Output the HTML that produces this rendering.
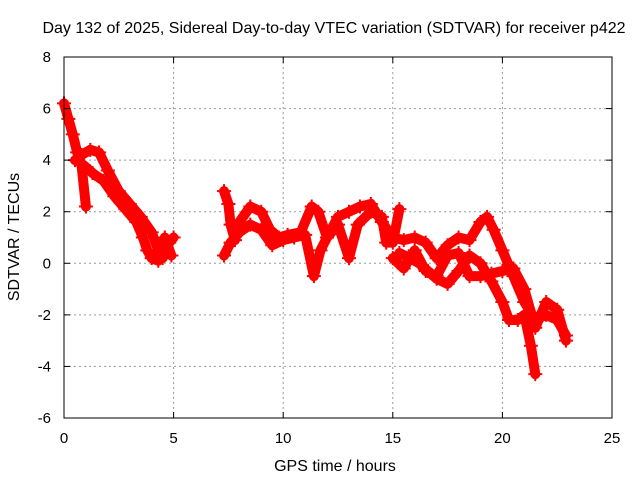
<!DOCTYPE html>
<html><head><meta charset="utf-8"><style>
body{margin:0;background:#fff}
svg text{font-family:"Liberation Sans",sans-serif;font-size:15px;fill:#000}
</style></head><body>
<svg id="chart" width="640" height="480" xmlns="http://www.w3.org/2000/svg">
<rect width="640" height="480" fill="#fff"/>
<g id="grid"></g>
<g id="series"></g>
<rect x="64" y="57" width="548" height="361" fill="none" stroke="#000" stroke-width="1"/>
<g id="ticks"></g>
<text x="334" y="33" text-anchor="middle" style="font-size:16px">Day 132 of 2025, Sidereal Day-to-day VTEC variation (SDTVAR) for receiver p422</text>
<text x="335" y="471" text-anchor="middle" style="font-size:16px">GPS time / hours</text>
<text transform="translate(19,237) rotate(-90)" text-anchor="middle" style="font-size:16px">SDTVAR / TECUs</text>
</svg>
<script>
const xTicks=[0,5,10,15,20,25];
const yTicks=[-6,-4,-2,0,2,4,6,8];
const traceA1=[[0,6.2],[0.2,5.6],[0.4,5.0],[0.6,4.3],[0.8,3.8],[1.0,2.2]];
const traceA2=[[0.5,4.0],[0.8,4.2],[1.2,4.4],[1.6,4.3],[2.0,3.6],[2.5,2.8],[3.0,2.3],[3.5,1.8],[4.0,1.2],[4.3,0.5],[4.5,0.2],[4.8,0.8],[5.0,1.0]];
const traceA3=[[0.9,3.8],[1.3,3.5],[1.8,3.2],[2.3,2.6],[2.8,2.1],[3.3,1.6],[3.6,1.0],[3.8,0.5],[4.0,0.2],[4.3,0.1],[4.6,1.0],[4.9,0.3]];
const traceB1=[[7.3,2.8],[7.5,2.3],[7.6,1.5],[7.8,0.9],[8.0,1.6],[8.5,2.2],[9.0,2.0],[9.4,1.3],[9.8,1.0],[10.2,1.1],[10.8,1.2],[11.3,2.2],[11.6,2.0],[12.0,1.0],[12.5,1.8],[13,2.0],[13.5,2.2],[14,2.3],[14.5,1.6],[15,1.0]];
const traceB2=[[7.3,0.3],[7.6,0.8],[8.0,1.2],[8.5,1.5],[9.0,1.3],[9.5,0.7],[10,0.9],[10.5,1.0],[11,1.1],[11.4,-0.5],[11.7,0.5],[12.0,1.0],[12.5,1.5],[13.0,0.2],[13.4,1.5],[14,2.0],[14.5,1.8],[14.7,0.8],[15.0,0.8],[15.3,2.1]];
const traceC1=[[15,1.0],[15.5,0.9],[16,1.0],[16.5,0.8],[17,0.2],[17.5,0.7],[18,1.0],[18.5,0.9],[19.0,1.6],[19.3,1.8],[19.6,1.3],[20,0.5],[20.5,-0.5],[21,-1.5],[21.5,-2.2],[22,-2.0],[22.5,-2.2],[22.9,-2.8]];
const traceC2=[[15.3,0.4],[15.8,0.2],[16.2,0.0],[16.6,-0.3],[17.0,-0.6],[17.5,-0.8],[18,-0.3],[18.5,0.3],[19,0.0],[19.5,-0.7],[20,-1.5],[20.3,-2.2],[20.7,-2.2],[21.0,-2.0],[21.3,-3.2],[21.5,-4.3]];
const traceC3=[[15.0,0.2],[15.5,-0.2],[16.0,0.5],[16.5,-0.3],[17.0,-0.5],[17.5,0.3],[18,0.4],[18.5,-0.5],[19,-0.5],[19.5,-0.4],[20,-0.3],[20.5,-0.2],[21,-1.0],[21.5,-2.5],[22,-1.5],[22.5,-1.8],[22.9,-3.0]];
const traces=[traceA1,traceA2,traceA3,traceB1,traceB2,traceC1,traceC2,traceC3];
const X0=64,X1=612,Y0=418,Y1=57;
function sx(t){return X0+(t-0)/(25-0)*(X1-X0);}
function sy(v){return Y0-(v+6)/(8+6)*(Y0-Y1);}
const NS="http://www.w3.org/2000/svg";
const grid=document.getElementById('grid'),ticks=document.getElementById('ticks'),ser=document.getElementById('series');
function mk(tag,attrs,parent){const e=document.createElementNS(NS,tag);for(const k in attrs)e.setAttribute(k,attrs[k]);parent.appendChild(e);return e;}
xTicks.forEach(t=>{
  const x=sx(t);
  if(t>0&&t<25){const g=mk('line',{x1:x,x2:x,y1:Y1,y2:Y0,stroke:'#999','stroke-dasharray':'2,3'},grid);
  
  }
  mk('line',{x1:x,x2:x,y1:Y0,y2:Y0-6,stroke:'#000'},ticks);
  mk('line',{x1:x,x2:x,y1:Y1,y2:Y1+6,stroke:'#000'},ticks);
  const l=mk('text',{x:x,y:443,'text-anchor':'middle'},ticks);l.textContent=t;
  
  
});
yTicks.forEach(v=>{
  const y=sy(v);
  if(v>-6&&v<8){const g=mk('line',{x1:X0,x2:X1,y1:y,y2:y,stroke:'#999','stroke-dasharray':'2,3'},grid);
  
  }
  mk('line',{x1:X0,x2:X0+6,y1:y,y2:y,stroke:'#000'},ticks);
  mk('line',{x1:X1,x2:X1-6,y1:y,y2:y,stroke:'#000'},ticks);
  const l=mk('text',{x:51,y:y+5,'text-anchor':'end'},ticks);l.textContent=v;
  
  
});
traces.forEach((tr,i)=>{
  const pl=mk('polyline',{points:tr.map(p=>sx(p[0])+','+sy(p[1])).join(' '),fill:'none',stroke:'#f00','stroke-width':10,'stroke-linejoin':'round','stroke-linecap':'round'},ser);
  
  
  tr.forEach(p=>{
    const x=sx(p[0]),y=sy(p[1]);
    const m=mk('path',{d:`M${x-7},${y}H${x+7}M${x},${y-7}V${y+7}`,stroke:'#f00','stroke-width':2},ser);
    
    
  });
});
</script>
</body></html>
